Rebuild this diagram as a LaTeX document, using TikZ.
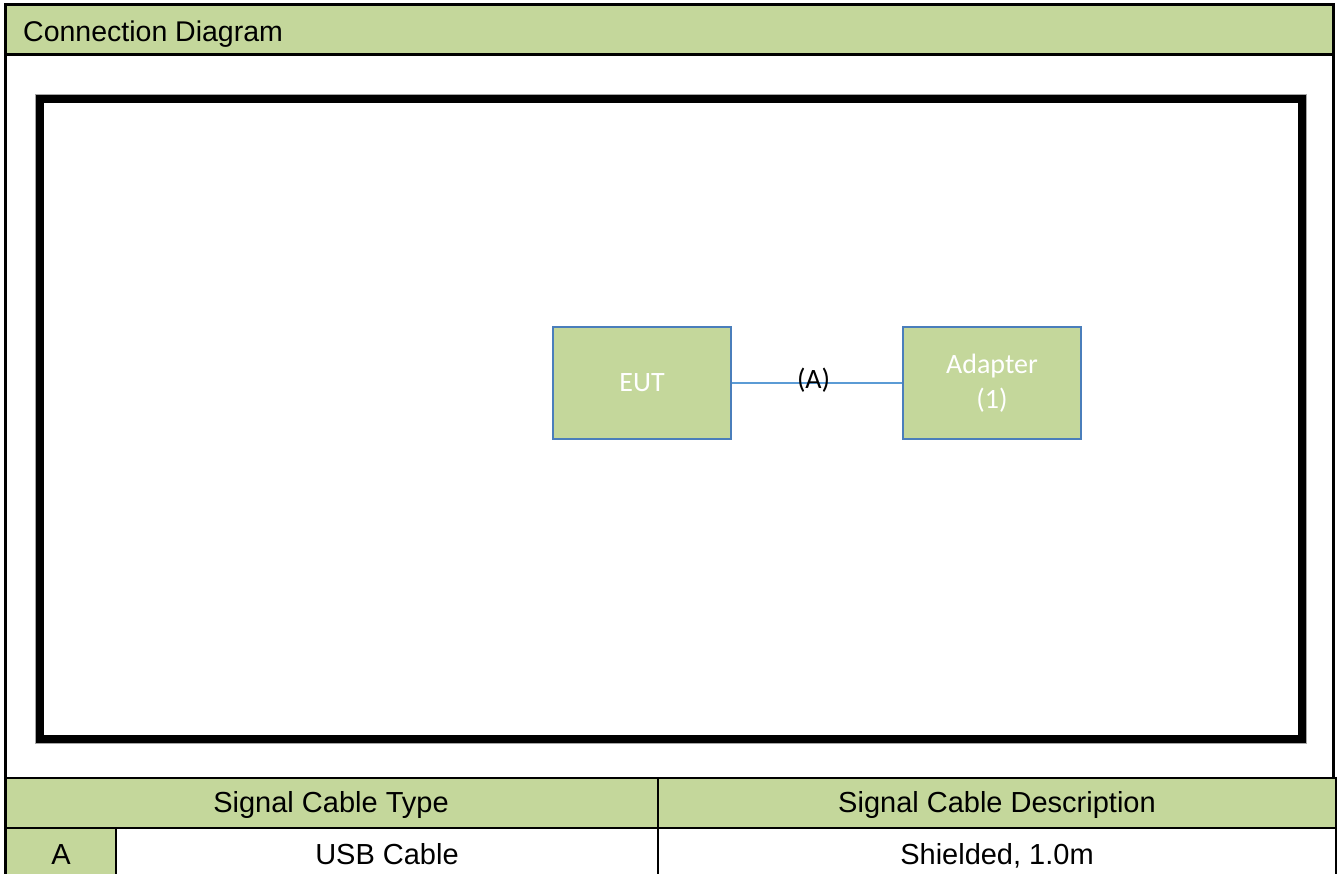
\documentclass[tikz,border=0pt]{standalone}
\usepackage{fontspec}
\setmainfont{Liberation Sans}
\newfontfamily\calibrifont{Carlito}
\definecolor{hdrgreen}{HTML}{C4D79B}
\definecolor{boxblue}{HTML}{4A7EBB}
\definecolor{wireblue}{HTML}{5B9BD5}
\definecolor{edgegray}{HTML}{A6A6A6}
\tikzset{
  frame/.style={draw=black, line width=3pt},
  tabline/.style={draw=black, line width=2.5pt},
  outerbox/.style={draw=black, line width=8pt},
  devbox/.style={draw=boxblue, line width=1.2pt, fill=hdrgreen, minimum width=178pt, minimum height=112pt,
    inner sep=0pt, text=white, font=\calibrifont\fontsize{28}{35}\selectfont, align=center},
  wire/.style={draw=wireblue, line width=1.6pt},
  wirelabel/.style={font=\calibrifont\fontsize{28}{34}\selectfont, text=black, inner sep=0pt},
  tabtext/.style={font=\fontsize{29}{34}\selectfont, anchor=base, inner sep=0pt},
}
\begin{document}
\begin{tikzpicture}[x=1pt,y=-1pt]
\useasboundingbox (0,0) rectangle (1338,874);
% header band
\fill[hdrgreen] (5.5,4.5) rectangle (1333.5,55);
\node[tabtext, font=\fontsize{28.5}{34}\selectfont, anchor=base west] (title) at (23,42) {Connection Diagram};
% outer frame
\draw[frame] (5.5,876) -- (5.5,4.5) -- (1333.5,4.5) -- (1333.5,778);
\draw[frame] (5.5,55) -- (1333.5,55);
% table fills
\fill[hdrgreen] (5.5,778) rectangle (1336,828);
\fill[hdrgreen] (5.5,828) rectangle (116,876);
% table lines
\draw[tabline] (4,778) -- (1337.2,778);
\draw[tabline] (4,828) -- (1337.2,828);
\draw[tabline] (1336,776.8) -- (1336,876);
\draw[tabline] (658,778) -- (658,876);
\draw[tabline] (116,828) -- (116,876);
\draw[frame] (5.5,776) -- (5.5,876);
% table text
\node[tabtext] (h1) at (331,812) {Signal Cable Type};
\node[tabtext] (h2) at (997,812) {Signal Cable Description};
\node[tabtext] (c1) at (61,864) {A};
\node[tabtext] (c2) at (387,864) {USB Cable};
\node[tabtext] (c3) at (997,864) {Shielded, 1.0m};
% inner thick box
\draw[edgegray, line width=1pt] (35.5,94.5) rectangle (1306,743.5);
\draw[outerbox] (40,99) rectangle (1301.5,739);
% devices
\node[devbox] (eut) at (642,383) {EUT};
\node[devbox] (adapter) at (992,383) {Adapter\\(1)};
\draw[wire] (eut.east) -- node[wirelabel, pos=0.48, yshift=3pt] {(A)} (adapter.west);
\end{tikzpicture}
\end{document}
